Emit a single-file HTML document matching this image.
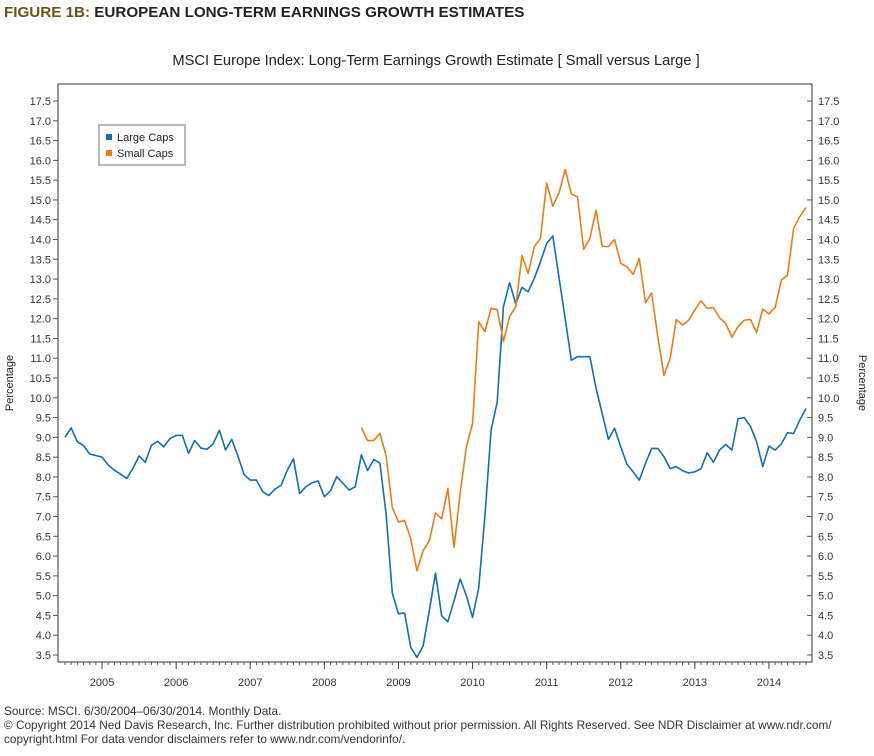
<!DOCTYPE html>
<html><head><meta charset="utf-8"><style>
body{margin:0;background:#fff;width:874px;height:751px;overflow:hidden;font-family:"Liberation Sans",sans-serif}
</style></head><body>
<svg width="874" height="751" xmlns="http://www.w3.org/2000/svg" font-family="Liberation Sans, sans-serif">
<text x="4" y="17" font-size="15.2" font-weight="bold"><tspan fill="#6b5416">FIGURE 1B:</tspan><tspan fill="#222"> EUROPEAN LONG-TERM EARNINGS GROWTH ESTIMATES</tspan></text>
<text x="436" y="65" font-size="14.7" fill="#222" text-anchor="middle">MSCI Europe Index: Long-Term Earnings Growth Estimate [ Small versus Large ]</text>
<rect x="58" y="84" width="754" height="578" fill="none" stroke="#333" stroke-width="1"/>
<g id="axes"></g>
<g id="series"></g>
<g>
<rect x="99" y="125" width="86" height="40" fill="#fff" stroke="#9aa3a8" stroke-width="1.5"/>
<rect x="106" y="134" width="6" height="6" fill="#1170b0"/>
<text x="117" y="141" font-size="11" fill="#222">Large Caps</text>
<rect x="106" y="150" width="6" height="6" fill="#ea7d16"/>
<text x="117" y="157" font-size="11" fill="#222">Small Caps</text>
</g>
<text transform="translate(13,383) rotate(-90)" font-size="11" fill="#222" text-anchor="middle">Percentage</text>
<text transform="translate(859,383) rotate(90)" font-size="11" fill="#222" text-anchor="middle">Percentage</text>
<g font-size="11.8" fill="#333">
<text x="4" y="715">Source: MSCI. 6/30/2004–06/30/2014. Monthly Data.</text>
<text x="4" y="729">© Copyright 2014 Ned Davis Research, Inc. Further distribution prohibited without prior permission. All Rights Reserved. See NDR Disclaimer at www.ndr.com/</text>
<text x="4" y="743">copyright.html For data vendor disclaimers refer to www.ndr.com/vendorinfo/.</text>
</g>
</svg>
<script>
const years=["2005","2006","2007","2008","2009","2010","2011","2012","2013","2014"];
const yTicks=[3.5,4,4.5,5,5.5,6,6.5,7,7.5,8,8.5,9,9.5,10,10.5,11,11.5,12,12.5,13,13.5,14,14.5,15,15.5,16,16.5,17,17.5];
const largeCaps=[9.0,9.24,8.89,8.79,8.58,8.54,8.5,8.3,8.17,8.07,7.96,8.22,8.53,8.37,8.8,8.9,8.76,8.97,9.05,9.05,8.6,8.92,8.73,8.7,8.84,9.18,8.68,8.95,8.53,8.06,7.92,7.92,7.63,7.53,7.69,7.79,8.17,8.46,7.58,7.75,7.85,7.9,7.5,7.65,8.01,7.84,7.67,7.75,8.56,8.16,8.44,8.35,7.06,5.07,4.54,4.56,3.69,3.44,3.73,4.62,5.57,4.49,4.34,4.87,5.42,5.0,4.45,5.2,7.0,9.18,9.9,12.3,12.91,12.37,12.79,12.68,13.02,13.44,13.9,14.09,13.04,12.0,10.95,11.04,11.04,11.04,10.24,9.6,8.95,9.23,8.76,8.32,8.13,7.92,8.34,8.72,8.72,8.51,8.21,8.26,8.16,8.1,8.13,8.21,8.61,8.37,8.68,8.82,8.68,9.47,9.5,9.28,8.89,8.26,8.78,8.68,8.83,9.12,9.1,9.44,9.73];
const smallStart=48;
const smallCaps=[9.25,8.92,8.92,9.1,8.54,7.23,6.86,6.9,6.43,5.63,6.14,6.39,7.09,6.94,7.71,6.22,7.6,8.76,9.35,11.92,11.67,12.26,12.23,11.42,12.06,12.3,13.6,13.14,13.82,14.03,15.43,14.84,15.18,15.77,15.15,15.08,13.75,14.03,14.74,13.83,13.82,14.0,13.4,13.31,13.12,13.52,12.4,12.65,11.54,10.57,11.0,11.98,11.84,11.96,12.22,12.45,12.26,12.28,12.02,11.88,11.53,11.8,11.96,11.98,11.65,12.24,12.12,12.28,12.97,13.1,14.28,14.58,14.81];
const NS="http://www.w3.org/2000/svg";
const xOf=i=>65+i*6.175;
const yOf=v=>655-(v-3.5)*39.57;
function mk(tag,attrs,parent){const e=document.createElementNS(NS,tag);for(const k in attrs)e.setAttribute(k,attrs[k]);parent.appendChild(e);return e;}
const ax=document.getElementById('axes');
yTicks.forEach(v=>{
 const y=yOf(v);
 mk('line',{x1:53,x2:58,y1:y,y2:y,stroke:'#555'},ax);
 mk('line',{x1:812,x2:807,y1:y,y2:y,stroke:'#555'},ax);
 const t1=mk('text',{x:51,y:y+4,'font-size':11,fill:'#333','text-anchor':'end'},ax);t1.textContent=v.toFixed(1);
 
 
 const t2=mk('text',{x:818,y:y+4,'font-size':11,fill:'#333'},ax);t2.textContent=v.toFixed(1);
 
 
});
for(let m=0;m<=121;m++){
 const xx=xOf(m);
 if(xx<58||xx>812) continue;
 mk('line',{x1:xx,x2:xx,y1:662,y2:665,stroke:'#555'},ax);
}
years.forEach((yr,k)=>{
 const x=xOf(6+12*k);
 mk('line',{x1:x,x2:x,y1:662,y2:669,stroke:'#444'},ax);
 const t=mk('text',{x:x,y:686,'font-size':11,fill:'#333','text-anchor':'middle'},ax);t.textContent=yr;
 
 
});
const sg=document.getElementById('series');
const pl=mk('polyline',{points:largeCaps.map((v,i)=>xOf(i)+','+yOf(v)).join(' '),fill:'none',stroke:'#1170b0','stroke-width':1.6,'stroke-linejoin':'round'},sg);


const ps=mk('polyline',{points:smallCaps.map((v,i)=>xOf(i+smallStart)+','+yOf(v)).join(' '),fill:'none',stroke:'#ea7d16','stroke-width':1.6,'stroke-linejoin':'round'},sg);


</script>
</body></html>
